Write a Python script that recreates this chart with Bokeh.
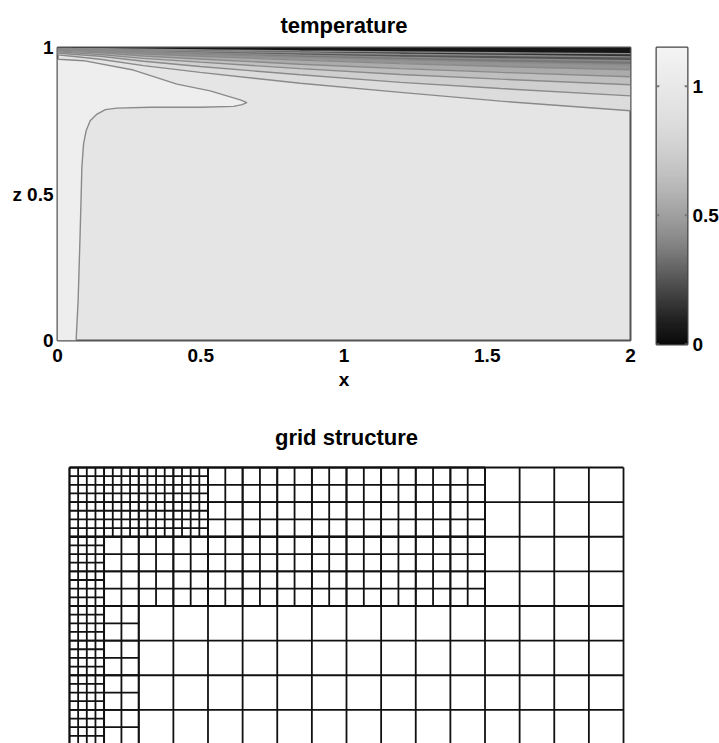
import numpy as np
from bokeh.plotting import figure
from bokeh.layouts import column, row
from bokeh.models import FixedTicker, Range1d, LinearColorMapper
from bokeh.embed import file_html
from bokeh.resources import INLINE

# ---------------- data ----------------
x_ticks = [0, 0.5, 1, 1.5, 2]
x_tick_labels = ["0", "0.5", "1", "1.5", "2"]
z_ticks = [0, 0.5, 1]
z_tick_labels = ["0", "0.5", "1"]
cb_ticks = [0, 0.5, 1]
cb_tick_labels = ["0", "0.5", "1"]
cb_low, cb_high = 0.0, 1.15

# thermal boundary-layer contour lines (levels 0.1 ... 0.9), z at these x
contour_x = [0.0, 0.05, 0.149, 0.3, 0.498, 0.847, 1.197, 1.546, 2.0]
contour_levels = [0.1, 0.2, 0.3, 0.4, 0.5, 0.6, 0.7, 0.8, 0.9]
c01 = [0.998, 0.997, 0.996, 0.994, 0.992, 0.988, 0.985, 0.982, 0.979]
c02 = [0.996, 0.996, 0.994, 0.991, 0.988, 0.982, 0.977, 0.973, 0.968]
c03 = [0.995, 0.994, 0.992, 0.987, 0.982, 0.974, 0.967, 0.961, 0.955]
c04 = [0.993, 0.992, 0.989, 0.983, 0.977, 0.967, 0.958, 0.950, 0.941]
c05 = [0.991, 0.989, 0.986, 0.978, 0.970, 0.957, 0.945, 0.935, 0.924]
c06 = [0.989, 0.986, 0.982, 0.971, 0.961, 0.943, 0.928, 0.915, 0.900]
c07 = [0.985, 0.982, 0.976, 0.963, 0.950, 0.928, 0.908, 0.892, 0.873]
c08 = [0.981, 0.977, 0.970, 0.953, 0.935, 0.907, 0.881, 0.860, 0.835]
c09 = [0.975, 0.970, 0.960, 0.938, 0.915, 0.878, 0.847, 0.817, 0.784]
contour_z = [c01, c02, c03, c04, c05, c06, c07, c08, c09]

# the T = 1 contour (tongue + strip along the left wall)
tongue_x = [0.0, 0.003, 0.091, 0.265, 0.417, 0.533, 0.591, 0.638, 0.661,
            0.644, 0.615, 0.498, 0.324, 0.207, 0.167, 0.138, 0.114, 0.100,
            0.091, 0.085, 0.083, 0.079, 0.072, 0.065]
tongue_z = [0.962, 0.960, 0.955, 0.923, 0.875, 0.852, 0.835, 0.821, 0.812,
            0.805, 0.799, 0.796, 0.796, 0.793, 0.788, 0.773, 0.750, 0.716,
            0.671, 0.591, 0.511, 0.365, 0.136, 0.0]
bulk_T = 0.96      # value between the 0.9 line and the tongue
tongue_T = 1.08    # value inside the tongue

# grey colour map anchors (value -> grey level)
cmap_t = [0.0, 0.1, 0.2, 0.3, 0.4, 0.5, 0.6, 0.7, 0.8, 0.9, 1.0, 1.15]
cmap_g = [10, 35, 68, 102, 136, 160, 182, 200, 214, 225, 232, 244]

# adaptive grid: base grid + refined patches
base_x0, base_x1, base_z0, base_z1, base_h = 0.0, 2.0, 0.0, 1.0, 0.125
patch_x0 = [0.5, 0.125, 0.125, 0.0, 0.0]
patch_x1 = [1.5, 1.5, 0.25, 0.5, 0.125]
patch_z0 = [0.75, 0.5, 0.0, 0.75, 0.0]
patch_z1 = [1.0, 0.75, 0.5, 1.0, 0.75]
patch_h = [0.0625, 0.0625, 0.0625, 0.03125, 0.03125]

# ---------------- styling helpers ----------------
FONT = "Liberation Sans"


def grey(t):
    g = int(round(np.interp(t, cmap_t, cmap_g)))
    return "#%02x%02x%02x" % (g, g, g)


palette = [grey(t) for t in np.linspace(cb_low, cb_high, 256)]
mapper = LinearColorMapper(palette=palette, low=cb_low, high=cb_high)


def style_title(p, standoff, offset):
    p.title.text_font = FONT
    p.title.text_font_size = "22px"
    p.title.text_font_style = "bold"
    p.title.text_color = "black"
    p.title.align = "center"
    p.title.standoff = standoff
    p.title.offset = offset


# ---------------- temperature panel ----------------
top = figure(frame_width=573, frame_height=293,
             x_range=Range1d(0, 2), y_range=Range1d(0, 1),
             min_border_left=57, min_border_right=8,
             min_border_top=47, min_border_bottom=55,
             title="temperature",
             output_backend="svg", toolbar_location=None)
style_title(top, 20, 1)
top.background_fill_color = grey(bulk_T)
top.border_fill_color = "white"
top.grid.visible = False
top.outline_line_color = "#555555"
top.outline_line_width = 2

# bands between the contour lines
xs, ys, cols = [], [], []
rx = contour_x[::-1]
xs.append(contour_x + rx)
ys.append(contour_z[0] + [1.0] * len(rx))
cols.append(grey(contour_levels[0] / 2))
for k in range(len(contour_z) - 1):
    xs.append(contour_x + rx)
    ys.append(contour_z[k + 1] + contour_z[k][::-1])
    cols.append(grey((contour_levels[k] + contour_levels[k + 1]) / 2))
top.patches(xs, ys, fill_color=cols, line_color=None)
top.patch(tongue_x + [0.0], tongue_z + [0.0], fill_color=grey(tongue_T), line_color=None)

for cz in contour_z:
    top.line(contour_x, cz, line_color="#8a8a8a", line_width=1.4)
top.line(tongue_x, tongue_z, line_color="#8a8a8a", line_width=1.4)

for ax in (top.xaxis[0], top.yaxis[0]):
    ax.axis_line_color = None
    ax.major_tick_in = 0
    ax.major_tick_out = 0
    ax.minor_tick_line_color = None
    ax.major_label_text_font = FONT
    ax.major_label_text_font_size = "19px"
    ax.major_label_text_font_style = "bold"
    ax.major_label_text_color = "black"
    ax.axis_label_text_font = FONT
    ax.axis_label_text_font_size = "19px"
    ax.axis_label_text_font_style = "bold"
    ax.axis_label_text_color = "black"
top.xaxis.ticker = FixedTicker(ticks=x_ticks)
top.xaxis.major_label_overrides = dict(zip(x_ticks, x_tick_labels))
top.xaxis.major_label_standoff = 8
top.xaxis.axis_label = "x"
top.xaxis.axis_label_standoff = 4
top.yaxis.ticker = FixedTicker(ticks=z_ticks)
top.yaxis.major_label_overrides = dict(zip(z_ticks, z_tick_labels))
top.yaxis.major_label_standoff = 4
top.yaxis.axis_label = "z"
top.yaxis.axis_label_orientation = "horizontal"
top.yaxis.axis_label_standoff = 2

# ---------------- colour bar panel ----------------
cb = figure(frame_width=31, frame_height=297,
            x_range=Range1d(0, 1), y_range=Range1d(cb_low, cb_high),
            min_border_left=18, min_border_right=31,
            min_border_top=43, min_border_bottom=55,
            y_axis_location="right",
            output_backend="svg", toolbar_location=None)
grad = np.linspace(cb_low, cb_high, 256).reshape(-1, 1)
cb.image(image=[grad], x=0, y=cb_low, dw=1, dh=cb_high - cb_low, color_mapper=mapper)
# small inner tick marks on both sides of the bar
cb.segment(x0=[0.0] * len(cb_ticks), x1=[0.09] * len(cb_ticks), y0=cb_ticks, y1=cb_ticks,
           line_color="#777777", line_width=2)
cb.segment(x0=[0.91] * len(cb_ticks), x1=[1.0] * len(cb_ticks), y0=cb_ticks, y1=cb_ticks,
           line_color="#777777", line_width=2)
cb.grid.visible = False
cb.xaxis.visible = False
cb.outline_line_color = "#444444"
cb.outline_line_width = 2
cy = cb.yaxis[0]
cy.ticker = FixedTicker(ticks=cb_ticks)
cy.major_label_overrides = dict(zip(cb_ticks, cb_tick_labels))
cy.axis_line_color = None
cy.major_tick_in = 0
cy.major_tick_out = 0
cy.minor_tick_line_color = None
cy.major_label_standoff = 5
cy.major_label_text_font = FONT
cy.major_label_text_font_size = "19px"
cy.major_label_text_font_style = "bold"
cy.major_label_text_color = "black"

# ---------------- grid structure panel ----------------
gp = figure(frame_width=564, frame_height=281,
            x_range=Range1d(-0.018, 2.018), y_range=Range1d(0.0036, 1.018),
            min_border_left=64, min_border_right=90,
            min_border_top=67, min_border_bottom=0,
            title="grid structure",
            output_backend="svg", toolbar_location=None)
style_title(gp, 25, -4)
gp.axis.visible = False
gp.grid.visible = False
gp.outline_line_color = None

x0s, y0s, x1s, y1s = [], [], [], []
blocks = [(base_x0, base_x1, base_z0, base_z1, base_h)] + list(
    zip(patch_x0, patch_x1, patch_z0, patch_z1, patch_h))
for bx0, bx1, bz0, bz1, h in blocks:
    nx = int(round((bx1 - bx0) / h))
    nz = int(round((bz1 - bz0) / h))
    for i in range(nx + 1):
        xv = bx0 + i * h
        x0s.append(xv); x1s.append(xv); y0s.append(bz0); y1s.append(bz1)
    for j in range(nz + 1):
        zv = bz0 + j * h
        x0s.append(bx0); x1s.append(bx1); y0s.append(zv); y1s.append(zv)
gp.segment(x0=x0s, y0=y0s, x1=x1s, y1=y1s, line_color="#111111", line_width=1.8)

layout = column(row(top, cb), gp)
open("out.html", "w").write(file_html(layout, INLINE))
